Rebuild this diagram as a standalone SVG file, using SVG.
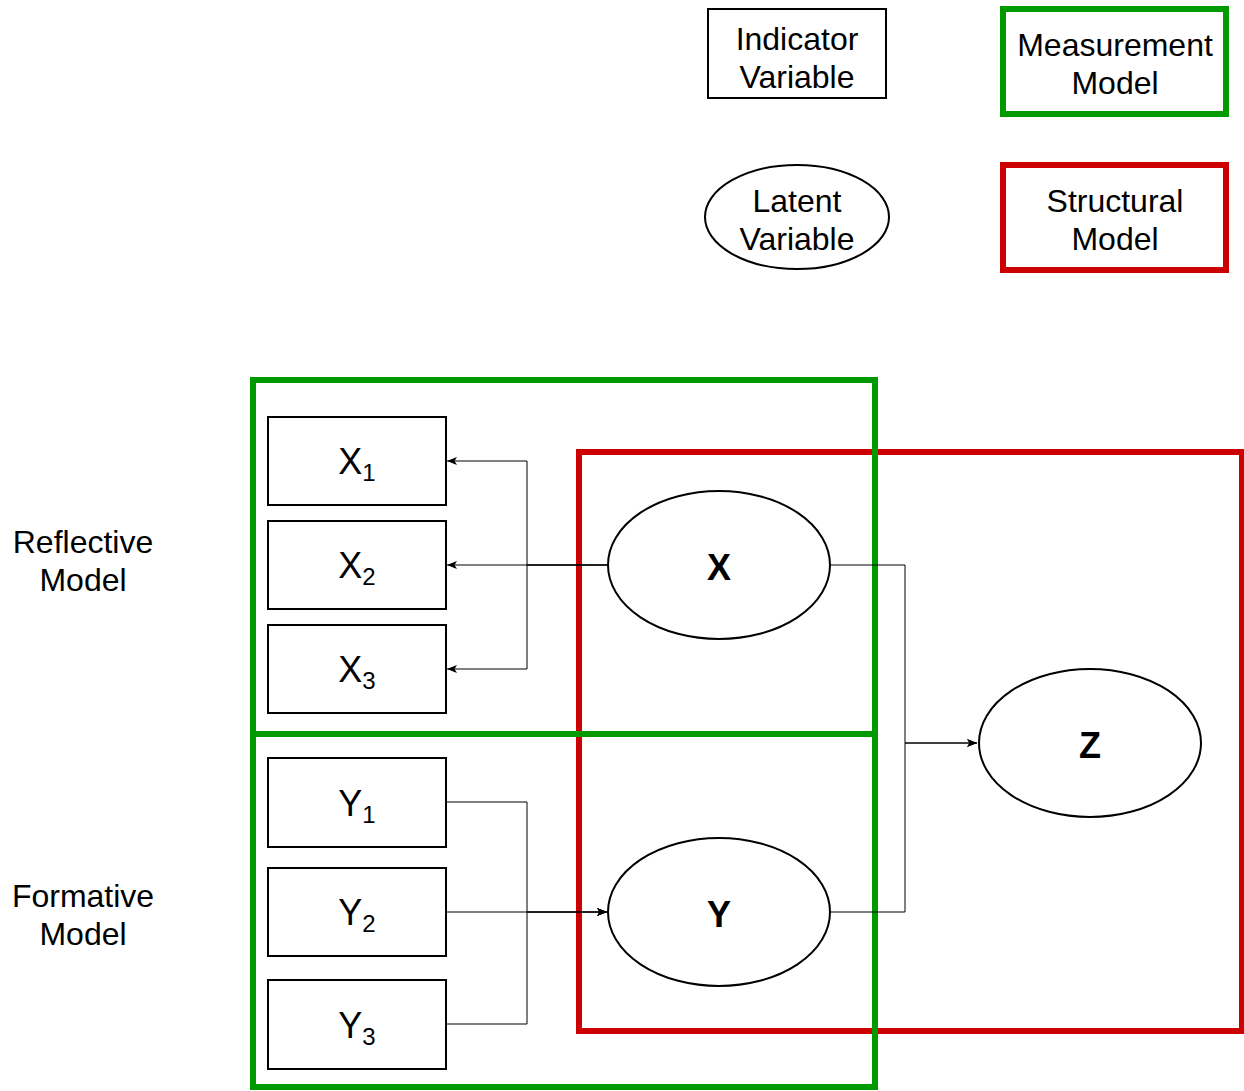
<svg xmlns="http://www.w3.org/2000/svg" width="1244" height="1091" viewBox="0 0 1244 1091">
  <style>
    text { font-family: "Liberation Sans", Arial, Helvetica, sans-serif; fill: #000; text-anchor: middle; }
    .lbl { font-size: 32px; }
    .ind { font-size: 36px; }
    .sub { font-size: 24px; }
    .lat { font-size: 36px; font-weight: bold; }
    .box { fill: #fff; stroke: #000; stroke-width: 2; }
    .ell { fill: #fff; stroke: #000; stroke-width: 2; }
    .meas { fill: none; stroke: #009900; stroke-width: 6; }
    .struct { fill: none; stroke: #cc0000; stroke-width: 6; }
    .edge { fill: none; stroke: #000; stroke-width: 1; marker-end: url(#arrow); }
  </style>
  <defs>
    <marker id="arrow" viewBox="0 0 10 8" refX="10" refY="4" markerWidth="10" markerHeight="8" markerUnits="userSpaceOnUse" orient="auto">
      <path d="M0,0 L10,4 L0,8 L2.5,4 Z" fill="#000"/>
    </marker>
  </defs>
  <rect width="1244" height="1091" fill="#fff"/>

  <!-- legend -->
  <g id="legend-indicator">
    <rect class="box" x="708" y="9" width="178" height="89"/>
    <text class="lbl" x="797" y="50">Indicator</text>
    <text class="lbl" x="797" y="88">Variable</text>
  </g>
  <g id="legend-measurement">
    <rect class="meas" x="1003" y="9" width="223" height="105"/>
    <text class="lbl" x="1115" y="56">Measurement</text>
    <text class="lbl" x="1115" y="94">Model</text>
  </g>
  <g id="legend-latent">
    <ellipse class="ell" cx="797" cy="217" rx="92" ry="52"/>
    <text class="lbl" x="797" y="212">Latent</text>
    <text class="lbl" x="797" y="250">Variable</text>
  </g>
  <g id="legend-structural">
    <rect class="struct" x="1003" y="165" width="223" height="105"/>
    <text class="lbl" x="1115" y="212">Structural</text>
    <text class="lbl" x="1115" y="250">Model</text>
  </g>

  <!-- side labels -->
  <g id="label-reflective">
    <text class="lbl" x="83" y="553">Reflective</text>
    <text class="lbl" x="83" y="591">Model</text>
  </g>
  <g id="label-formative">
    <text class="lbl" x="83" y="907">Formative</text>
    <text class="lbl" x="83" y="945">Model</text>
  </g>

  <!-- model containers -->
  <g id="structural-model">
    <rect class="struct" x="579" y="452" width="663" height="579"/>
  </g>
  <g id="measurement-reflective">
    <rect class="meas" x="253" y="380" width="622" height="354"/>
  </g>
  <g id="measurement-formative">
    <rect class="meas" x="253" y="734" width="622" height="353"/>
  </g>

  <!-- connectors -->
  <g id="connectors">
    <path class="edge" d="M608,565 H527 V461 H447"/>
    <path class="edge" d="M608,565 H447"/>
    <path class="edge" d="M608,565 H527 V669 H447"/>
    <path class="edge" d="M447,802 H527 V912 H607"/>
    <path class="edge" d="M447,912 H607"/>
    <path class="edge" d="M447,1024 H527 V912 H607"/>
    <path class="edge" d="M830,565 H905 V743 H977"/>
    <path class="edge" d="M830,912 H905 V743 H977"/>
  </g>

  <!-- indicator variables -->
  <g id="x1">
    <rect class="box" x="268" y="417" width="178" height="88"/>
    <text class="ind" x="357" y="474">X<tspan class="sub" dy="7">1</tspan></text>
  </g>
  <g id="x2">
    <rect class="box" x="268" y="521" width="178" height="88"/>
    <text class="ind" x="357" y="578">X<tspan class="sub" dy="7">2</tspan></text>
  </g>
  <g id="x3">
    <rect class="box" x="268" y="625" width="178" height="88"/>
    <text class="ind" x="357" y="682">X<tspan class="sub" dy="7">3</tspan></text>
  </g>
  <g id="y1">
    <rect class="box" x="268" y="758" width="178" height="89"/>
    <text class="ind" x="357" y="816">Y<tspan class="sub" dy="7">1</tspan></text>
  </g>
  <g id="y2">
    <rect class="box" x="268" y="868" width="178" height="88"/>
    <text class="ind" x="357" y="925">Y<tspan class="sub" dy="7">2</tspan></text>
  </g>
  <g id="y3">
    <rect class="box" x="268" y="980" width="178" height="89"/>
    <text class="ind" x="357" y="1038">Y<tspan class="sub" dy="7">3</tspan></text>
  </g>

  <!-- latent variables -->
  <g id="latent-x">
    <ellipse class="ell" cx="719" cy="565" rx="111" ry="74"/>
    <text class="lat" x="719" y="580">X</text>
  </g>
  <g id="latent-y">
    <ellipse class="ell" cx="719" cy="912" rx="111" ry="74"/>
    <text class="lat" x="719" y="927">Y</text>
  </g>
  <g id="latent-z">
    <ellipse class="ell" cx="1090" cy="743" rx="111" ry="74"/>
    <text class="lat" x="1090" y="758">Z</text>
  </g>
</svg>
